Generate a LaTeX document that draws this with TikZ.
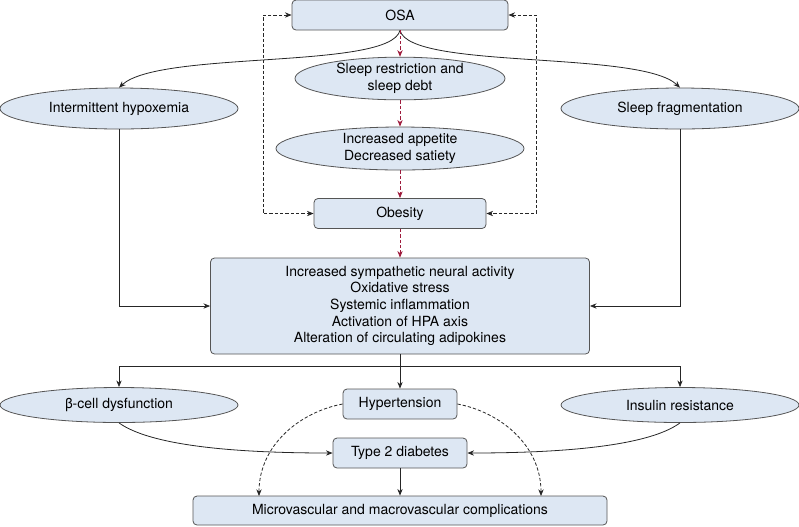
\documentclass[tikz,border=0pt]{standalone}
\usepackage{fontspec}
\setmainfont{TeX Gyre Heros}
\usetikzlibrary{shapes.geometric,arrows.meta}

\definecolor{boxfill}{RGB}{221,231,243}
\definecolor{boxline}{RGB}{85,85,85}
\definecolor{darkred}{RGB}{158,27,60}

\begin{document}
\begin{tikzpicture}[x=0.75pt,y=-0.75pt,
	>={Stealth[length=5pt,width=4pt]},
	box/.style={draw=boxline, fill=boxfill, rounded corners=3pt, line width=0.6pt,
		inner sep=0pt, align=center, font=\fontsize{10.5}{12.5}\selectfont},
	oval/.style={ellipse, draw=boxline, fill=boxfill, line width=0.6pt,
		inner sep=0pt, align=center, font=\fontsize{10.5}{12.5}\selectfont},
	link/.style={draw=black!85, line width=0.6pt, ->},
	dlink/.style={link, dash pattern=on 2.5pt off 1.5pt},
	redlink/.style={dlink, draw=darkred}]
	
	% ---- (A) parameters: one unit is one pixel of the page ----
	\def\pxl{0.75pt}
	\def\W{799}
	\def\H{526}
	\useasboundingbox (0,0) rectangle (\W,\H);
	
	% ---- (B) top: OSA and the red chain down to obesity ----
	\node[box, minimum width=216*\pxl, minimum height=30*\pxl] (osa) at (400,15) {OSA};
	\node[oval, minimum width=210*\pxl, minimum height=40*\pxl] (sleep) at (400,78.5)
	{Sleep restriction and\\sleep debt};
	\node[oval, minimum width=248*\pxl, minimum height=43*\pxl] (appetite) at (400,148.5)
	{Increased appetite\\Decreased satiety};
	\node[box, minimum width=172*\pxl, minimum height=30*\pxl] (obesity) at (400,213.5) {Obesity};
	
	% side ovals
	\node[oval, minimum width=238*\pxl, minimum height=41*\pxl] (hypox) at (119,108.5)
	{Intermittent hypoxemia};
	\node[oval, minimum width=238*\pxl, minimum height=41*\pxl] (frag) at (680,108.5)
	{Sleep fragmentation};
	
	% ---- (C) mechanisms box ----
	\node[box, minimum width=379*\pxl, minimum height=96*\pxl] (mech) at (400,306)
	{Increased sympathetic neural activity\\Oxidative stress\\Systemic inflammation\\
		Activation of HPA axis\\Alteration of circulating adipokines};
	
	% ---- (D) bottom row ----
	\node[oval, minimum width=238*\pxl, minimum height=35*\pxl] (beta) at (119,405)
	{β-cell dysfunction};
	\node[oval, minimum width=238*\pxl, minimum height=35*\pxl] (insulin) at (680,405)
	{Insulin resistance};
	\node[box, minimum width=114*\pxl, minimum height=30*\pxl] (hyper) at (400,404) {Hypertension};
	\node[box, minimum width=134*\pxl, minimum height=30*\pxl] (ttd) at (400,453) {Type 2 diabetes};
	\node[box, minimum width=414*\pxl, minimum height=29*\pxl] (comp) at (400,510.5)
	{Microvascular and macrovascular complications};
	
	% bends and free ends
	\coordinate (lside) at (263,100);
	\coordinate (rside) at (536,100);
	\coordinate (split) at (400,366);
	\coordinate (cl) at (259,496);
	\coordinate (cr) at (541,496);
	
	% ---- (E) connectors ----
	\draw[link] (osa.south) .. controls (390,70) and (160,50) .. (hypox.north);
	\draw[link] (osa.south) .. controls (410,70) and (640,50) .. (frag.north);
	
	\foreach \a/\b in {osa/sleep, sleep/appetite, appetite/obesity, obesity/mech}{
		\draw[redlink] (\a) -- (\b);
	}
	
	% dashed loops between OSA and obesity
	\draw[dlink, <->] (osa.west) -| (lside) |- (obesity.west);
	\draw[dlink, <->] (osa.east) -| (rside) |- (obesity.east);
	
	\draw[link] (hypox.south) |- (mech.west);
	\draw[link] (frag.south) |- (mech.east);
	
	% split under the mechanisms box
	\draw[link] (mech.south) -- (hyper.north);
	\draw[link] (split) -| (beta.north);
	\draw[link] (split) -| (insulin.north);
	
	\draw[link] (beta.south) .. controls (150,445) and (230,453) .. (ttd.west);
	\draw[link] (insulin.south) .. controls (650,445) and (570,453) .. (ttd.east);
	
	\draw[dlink] (hyper.west) .. controls (300,412) and (259,445) .. (cl);
	\draw[dlink] (hyper.east) .. controls (500,412) and (541,445) .. (cr);
	
	\draw[link] (ttd) -- (comp);
	
\end{tikzpicture}
\end{document}
